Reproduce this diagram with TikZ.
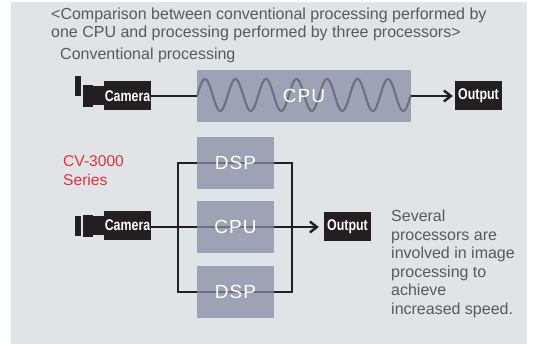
\documentclass[tikz,border=0pt]{standalone}
\usepackage{fontspec}
\setmainfont{Liberation Sans}
\usetikzlibrary{arrows.meta,backgrounds,calc}
\definecolor{panelgray}{HTML}{E1E4E7}
\definecolor{procfill}{HTML}{888DA5}
\definecolor{inkblack}{HTML}{231F20}
\definecolor{bodygray}{HTML}{58595B}
\definecolor{seriesred}{HTML}{E0303C}
\tikzset{
  procbox/.style={fill=procfill,fill opacity=.75,text opacity=1,text=white,inner sep=0pt,
    font=\fontsize{19}{19}\selectfont\addfontfeature{LetterSpace=6}},
  tagbox/.style={fill=inkblack,text=white,inner sep=0pt,minimum width=47pt,minimum height=29pt,
    font=\fontsize{15.5}{15.5}\selectfont\bfseries},
  campart/.style={fill=inkblack,inner sep=0pt},
  bodytext/.style={text=bodygray,anchor=base west,inner sep=0pt,font=\fontsize{16}{16}\selectfont},
  redtext/.style={text=seriesred,anchor=base west,inner sep=0pt,font=\fontsize{15.6}{15.6}\selectfont},
  wire/.style={draw=inkblack,line width=2.4pt},
  flow/.style={wire,-{Straight Barb[length=7pt,width=11pt,line width=2.4pt]}},
  waveline/.style={draw=inkblack,line width=2.2pt}
}
\newcommand{\narrowtag}[1]{\scalebox{.8}[1]{#1}}
\begin{document}
\begin{tikzpicture}[x=1pt,y=-1pt]
\useasboundingbox (0,0) rectangle (542,344);
% text
\node[bodytext] (title1) at (51,20) {<Comparison between conventional processing performed by};
\node[bodytext] (title2) at (51,37.5) {one CPU and processing performed by three processors>};
\node[bodytext] (conv) at (60,60) {Conventional processing};
\node[redtext] (series1) at (63,167) {CV-3000};
\node[redtext] (series2) at (63,186) {Series};
\node[bodytext] (note1) at (391,222) {Several};
\node[bodytext] (note2) at (391,240.5) {processors are};
\node[bodytext] (note3) at (391,259) {involved in image};
\node[bodytext] (note4) at (391,277.5) {processing to};
\node[bodytext] (note5) at (391,296) {achieve};
\node[bodytext] (note6) at (391,314.5) {increased speed.};
% upper row
\node[campart,minimum width=6pt,minimum height=20pt] (findA) at (78,86) {};
\node[campart,minimum width=10pt,minimum height=22pt] (lensA) at (88,96) {};
\node[campart,minimum width=11pt,minimum height=19pt] (bodyA) at (98,95.5) {};
\node[tagbox] (camA) at (127.5,96) {\narrowtag{Camera}};
\node[procbox,minimum width=214pt,minimum height=52pt] (cpuA) at (304,96) {CPU};
\node[tagbox] (outA) at (478.5,96) {\narrowtag{Output}};
% lower row
\node[campart,minimum width=6pt,minimum height=20pt] (findB) at (78,226) {};
\node[campart,minimum width=10pt,minimum height=22pt] (lensB) at (88,226) {};
\node[campart,minimum width=11pt,minimum height=19pt] (bodyB) at (98,225.5) {};
\node[tagbox] (camB) at (127.5,225.5) {\narrowtag{Camera}};
\node[procbox,minimum width=77pt,minimum height=52pt] (dspT) at (235.5,163) {DSP};
\node[procbox,minimum width=77pt,minimum height=52pt] (cpuB) at (235.5,227) {CPU};
\node[procbox,minimum width=77pt,minimum height=52pt] (dspL) at (235.5,292) {DSP};
\node[tagbox] (outB) at (347.5,227) {\narrowtag{Output}};
\coordinate (jl) at (178,227);
\coordinate (jr) at (292,227);
\begin{scope}[on background layer]
  \fill[white] (0,0) rectangle (542,344);
  \fill[panelgray] (11,2) rectangle (526.5,344);
  \begin{scope}
    \clip (cpuA.north west) rectangle (cpuA.south east);
    \draw[waveline,domain=197:411,samples=240] plot (\x,{95-16*cos(11.803*(\x-205))});
  \end{scope}
  \draw[wire] (camA.east) -- (cpuA.west);
  \draw[flow] (cpuA.east) -- ($(outA.west)+(-2,0)$);
  \draw[wire,line join=miter] (jl |- dspT) -- (jr |- dspT) -- (jr |- dspL) -- (jl |- dspL) -- cycle;
  \draw[flow] (camB.east |- cpuB) -- ($(outB.west)+(-5,0)$);
\end{scope}
\end{tikzpicture}
\end{document}
